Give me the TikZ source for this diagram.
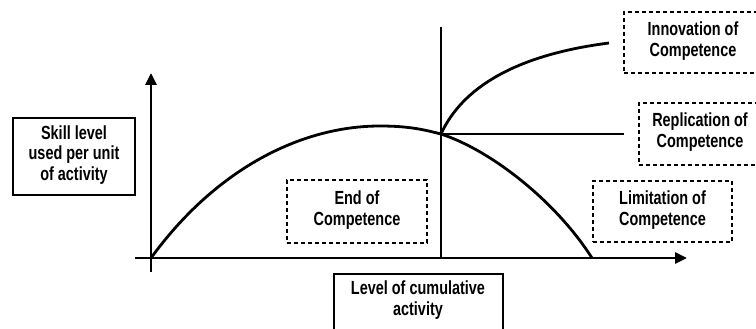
\documentclass[tikz,border=0pt]{standalone}
\usepackage{fontspec}
\setmainfont{Liberation Sans}[FakeStretch=0.76]
\usetikzlibrary{arrows.meta}
\begin{document}
\begin{tikzpicture}[x=1pt,y=-1pt,
  txt/.style={font=\fontsize{19}{20.5}\selectfont\bfseries, align=center, inner sep=0pt},
  solidbox/.style={draw, line width=2pt, inner sep=0pt},
  dashbox/.style={draw, line width=1.6pt, dash pattern=on 4pt off 3pt, inner sep=0pt},
  axis/.style={line width=2.8pt, -{Triangle[width=11pt,length=12pt]}},
  curve/.style={line width=2.8pt}]
\clip (0,0) rectangle (756,329);
% boxes
\node[solidbox, minimum width=122pt, minimum height=77pt] (skill) at (74,156.5) {};
\node[txt] (skillt) at (74,155) {Skill level\\used per unit\\of activity};
\node[dashbox, minimum width=140pt, minimum height=63pt] (endc) at (357,211.5) {};
\node[txt] (endt) at (357,210) {End of\\Competence};
\node[dashbox, minimum width=139pt, minimum height=61pt] (limc) at (662.5,211.5) {};
\node[txt] (limt) at (662.5,210) {Limitation of\\Competence};
\node[dashbox, minimum width=138pt, minimum height=61pt] (innc) at (693,42.5) {};
\node[txt] (innt) at (693,41) {Innovation of\\Competence};
\node[dashbox, minimum width=120pt, minimum height=62pt] (repc) at (699,134) {};
\node[txt] (rept) at (700,132) {Replication of\\Competence};
\node[solidbox, minimum width=169pt, minimum height=80pt, anchor=north] (level) at (418.5,273) {};
\node[txt] (levelt) at (418,300) {Level of cumulative\\activity};
% axes
\coordinate (ybot) at (151,272);
\coordinate (ytop) at (151,73);
\coordinate (xleft) at (135,258);
\coordinate (xright) at (687,258);
\coordinate (O) at (151,258);
\coordinate (V) at (441,134);
\coordinate (vtop) at (441,27);
\coordinate (vbot) at (441,258);
\coordinate (peak) at (380,126);
\coordinate (endpt) at (592,258);
\coordinate (innend) at (609,43);
\coordinate (repend) at (624,134);
\draw[axis] (ybot) -- (ytop);
\draw[axis] (xleft) -- (xright);
\draw[curve] (vtop) -- (vbot);
% curves
\draw[curve] (O) .. controls (215,170) and (300,126) .. (peak)
  .. controls (410,126) and (425,130) .. (V);
\draw[curve] (V) .. controls (490,150) and (555,200) .. (endpt);
\draw[curve] (V) .. controls (462,88) and (515,55) .. (innend);
\draw[curve] (V) -- (repend);
\end{tikzpicture}
\end{document}
